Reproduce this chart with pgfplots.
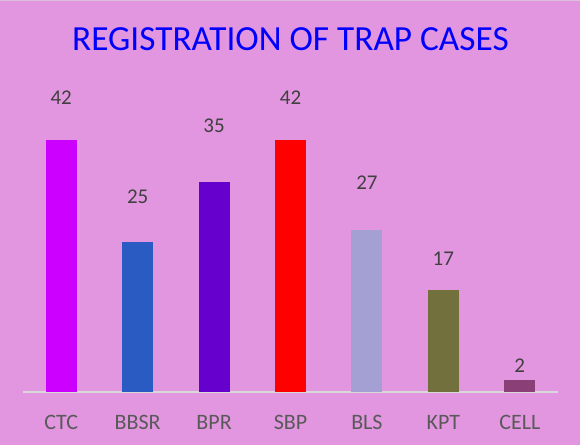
\documentclass[border=0pt]{standalone}
\usepackage{pgfplots}
\pgfplotsset{compat=1.18}
\usepackage{fontspec}
\setmainfont{Carlito}
\definecolor{bg}{HTML}{E396E0}
\definecolor{lgray}{HTML}{D9D9D9}
\definecolor{tickgray}{HTML}{595959}
\definecolor{valgray}{HTML}{404040}
\definecolor{cCTC}{HTML}{CC00FF}
\definecolor{cBBSR}{HTML}{2A5BC2}
\definecolor{cBPR}{HTML}{6600CC}
\definecolor{cSBP}{HTML}{FF0000}
\definecolor{cBLS}{HTML}{A5A0D3}
\definecolor{cKPT}{HTML}{72703D}
\definecolor{cCELL}{HTML}{8B3F77}
\begin{document}
\begin{tikzpicture}
\path[use as bounding box, fill=bg] (-23bp,-53bp) rectangle (557bp,392bp);
\draw[lgray!60!bg, line width=1.5bp] (-23bp,391.5bp) -- (557bp,391.5bp);
\begin{axis}[
  scale only axis,
  width=535bp, height=300bp,
  xmin=-0.5, xmax=6.5, ymin=0, ymax=50,
  hide y axis,
  axis x line*=bottom,
  x axis line style={-, draw=lgray, line width=2bp},
  xtick={0,1,2,3,4,5,6},
  xticklabels={CTC,BBSR,BPR,SBP,BLS,KPT,CELL},
  major tick length=0pt,
  xticklabel style={anchor=center, yshift=-30bp, text=tickgray, font=\fontsize{22bp}{26bp}\selectfont},
  ybar, bar width=31bp, bar shift=0pt,
  title={REGISTRATION OF TRAP CASES},
  title style={at={(0.5,1)}, anchor=center, yshift=47bp, text={rgb,255:red,0;green,0;blue,255}, font=\fontsize{35.3bp}{40bp}\selectfont},
  clip=false,
]
\addplot[fill=cCTC, draw=none] coordinates {(0,42)};
\addplot[fill=cBBSR, draw=none] coordinates {(1,25)};
\addplot[fill=cBPR, draw=none] coordinates {(2,35)};
\addplot[fill=cSBP, draw=none] coordinates {(3,42)};
\addplot[fill=cBLS, draw=none] coordinates {(4,27)};
\addplot[fill=cKPT, draw=none] coordinates {(5,17)};
\addplot[fill=cCELL, draw=none] coordinates {(6,2)};
\addplot[draw=none, fill=none, mark=none, sharp plot,
  nodes near coords, point meta=explicit symbolic,
  every node near coord/.append style={anchor=center, text=valgray, font=\fontsize{21bp}{25bp}\selectfont}]
  coordinates {(0,49) [42] (1,32.5) [25] (2,44.33) [35] (3,49) [42] (4,34.83) [27] (5,22.17) [17] (6,4.33) [2]};
\end{axis}
\end{tikzpicture}
\end{document}
